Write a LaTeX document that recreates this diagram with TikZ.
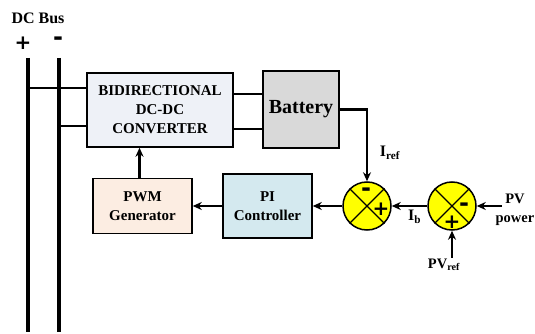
\documentclass[tikz,border=0pt]{standalone}
\usepackage{fontspec}
\setmainfont{Liberation Serif}
\newfontfamily\signfont{DejaVu Sans}
\usetikzlibrary{arrows.meta,positioning,calc}
\definecolor{convfill}{RGB}{238,241,247}
\definecolor{battfill}{RGB}{217,217,217}
\definecolor{pifill}{RGB}{212,233,239}
\definecolor{pwmfill}{RGB}{252,237,226}
\definecolor{sumyellow}{RGB}{255,255,0}

\begin{document}
\begin{tikzpicture}[x=1pt,y=-1pt,
        box/.style={draw,line width=1.5pt,align=center,inner sep=2pt,
                    font=\bfseries\fontsize{15}{19}\selectfont},
        bus/.style={line width=3.6pt},
        wire/.style={line width=2.3pt},
        arr/.style={-{Stealth[length=9pt,width=8pt]},line width=2.3pt},
        sumnode/.style={circle,draw,line width=1.5pt,fill=sumyellow,
                        minimum size=48pt,inner sep=0pt},
        sign/.style={font=\signfont\bfseries\fontsize{20}{20}\selectfont,
                     inner sep=0pt},
        minsign/.style={sign,font=\signfont\bfseries\fontsize{24}{24}\selectfont},
        lbl/.style={font=\bfseries\fontsize{14.5}{19}\selectfont,
                    align=center,inner sep=1pt},
      ]
        \useasboundingbox (0,0) rectangle (535,334);
        % DC bus
        \node[lbl,font=\bfseries\fontsize{16}{18}\selectfont](dcbus)
          at (38,18){DC Bus};
        \node[sign](plus) at (23,43){+};
        \node[minsign](minus) at (58,41){-};
        \coordinate(ptop) at (28,58);
        \coordinate(pbot) at (28,332);
        \coordinate(mtop) at (59,58);
        \coordinate(mbot) at (59,332);
        \draw[bus](ptop)--(pbot);
        \draw[bus](mtop)--(mbot);
        % blocks
        \node[box,fill=convfill,minimum width=146pt,minimum height=74pt]
          (conv) at (160,110){BIDIRECTIONAL\\DC-DC\\CONVERTER};
        \node[box,fill=battfill,minimum width=76pt,minimum height=77pt,
          font=\bfseries\fontsize{20}{22}\selectfont]
          (batt) at (301,109.5){Battery};
        \node[box,fill=pifill,minimum width=89pt,minimum height=64pt]
          (pi) at (267.5,206){PI\\Controller};
        \node[box,fill=pwmfill,minimum width=99pt,minimum height=55pt]
          (pwm) at (142.5,206){PWM\\Generator};
        \node[sumnode](s1) at (367,206){};
        \node[sumnode](s2) at (452,206){};
        \foreach \s in {s1,s2}{
          \draw[line width=1.2pt](\s.north west)--(\s.south east);
          \draw[line width=1.2pt](\s.north east)--(\s.south west);
        }
        \node[minsign]at([xshift=-1pt,yshift=14pt]s1.center){-};
        \node[sign]at([xshift=14pt,yshift=-3pt]s1.center){+};
        \node[minsign]at([xshift=12pt,yshift=-1pt]s2.center){-};
        \node[sign]at([yshift=-16pt]s2.center){+};
        % labels
        \node[lbl,font=\bfseries\fontsize{16}{19}\selectfont](iref)
          at (390,153){I\textsubscript{ref}};
        \node[lbl](pvpow) at (515,210){PV\\power};
        \node[lbl](pvref) at (444,265){PV\textsubscript{ref}};
        \coordinate(pvin) at (502,206);
        % bus taps
        \coordinate(ptap) at (28,88);
        \coordinate(mtap) at (59,126);
        \draw[wire](ptap)--(ptap-|conv.west);
        \draw[wire](mtap)--(mtap-|conv.west);
        \draw[wire]([yshift=16pt]conv.east)--([yshift=16pt]conv.east-|batt.west);
        \draw[wire]([yshift=-19pt]conv.east)--([yshift=-19pt]conv.east-|batt.west);
        % signal path
        \draw[arr](batt.east)-|(s1.north);
        \draw[arr](pvin)--(s2.east);
        \draw[arr](s2.south|-pvref.north)--(s2.south);
        \draw[arr](s2.west)--(s1.east)node[lbl,midway,below=2pt,xshift=5pt,
          font=\bfseries\fontsize{16}{19}\selectfont]{I\textsubscript{b}};
        \draw[arr](s1.west)--(pi.east);
        \draw[arr](pi.west)--(pwm.east);
        \draw[arr]([xshift=-3pt]pwm.north)--([xshift=-3pt]pwm.north|-conv.south);
      \end{tikzpicture}
\end{document}
